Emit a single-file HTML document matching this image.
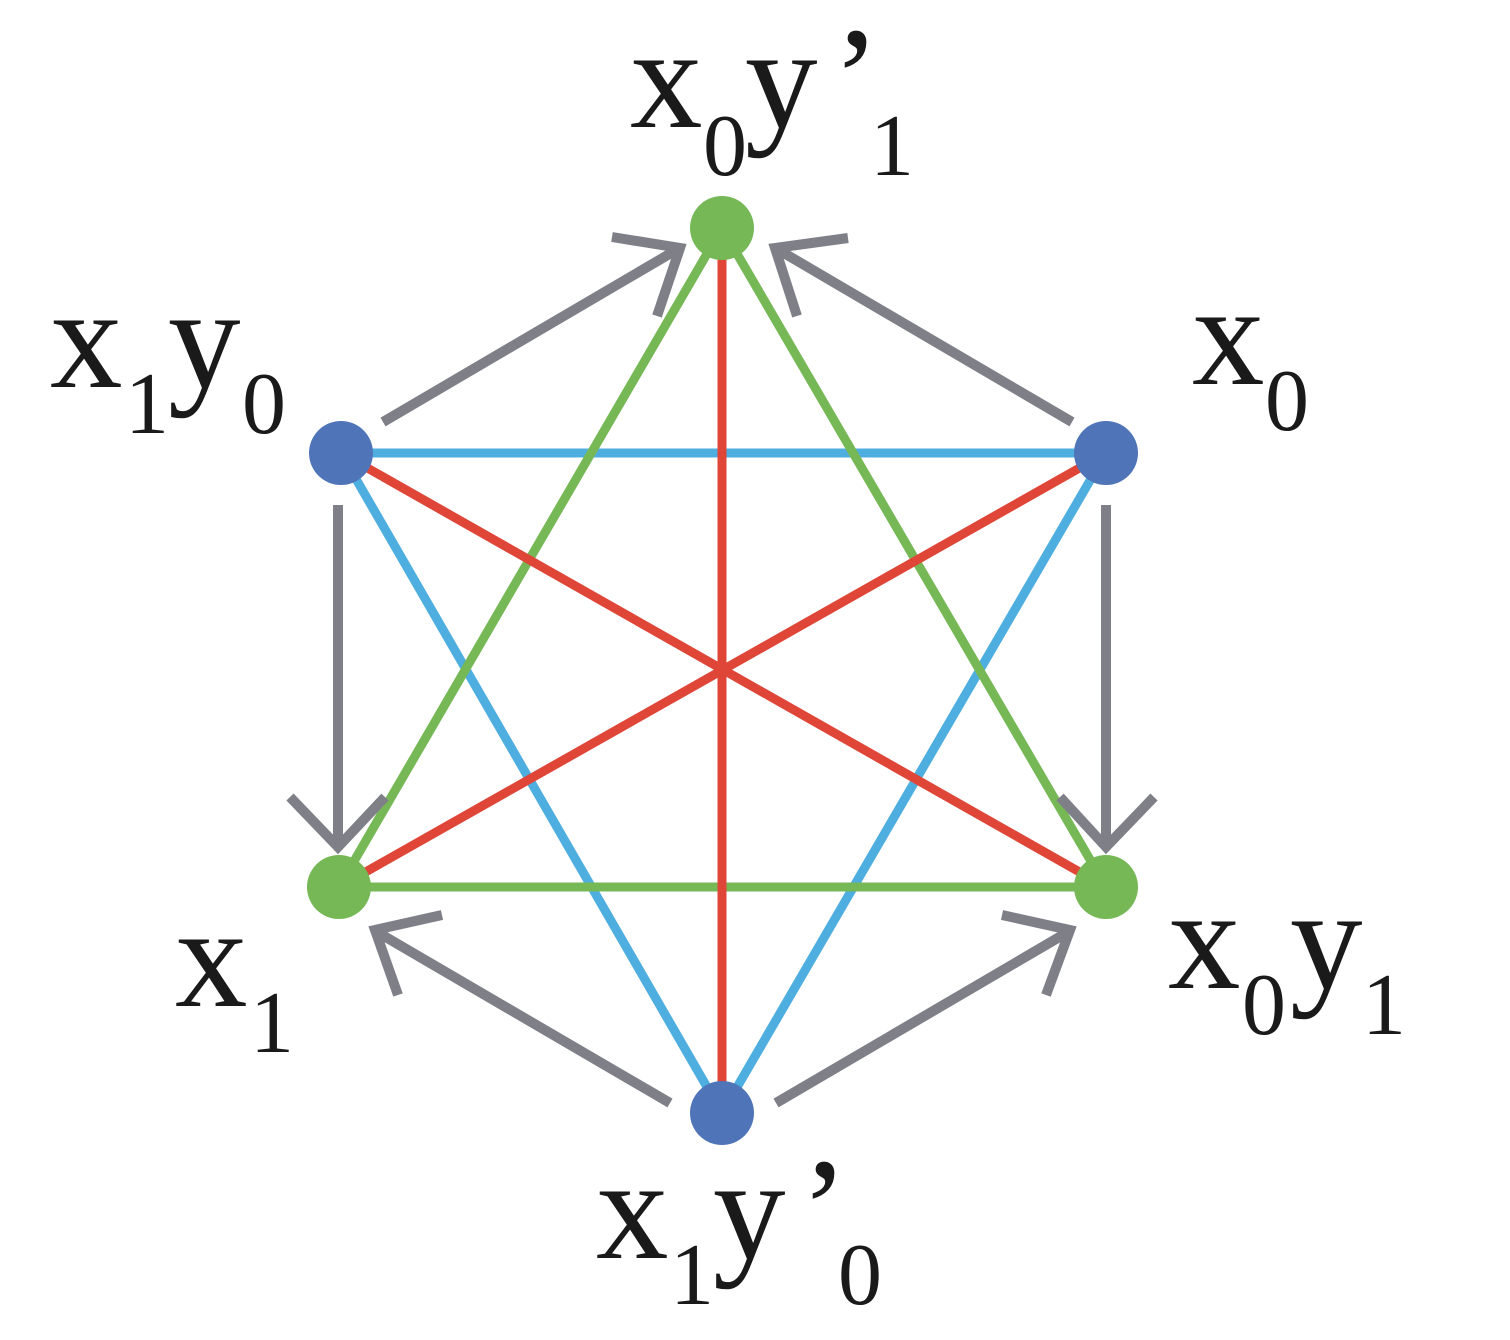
<!DOCTYPE html>
<html><head><style>html,body{margin:0;padding:0;background:#fff}svg{display:block}
.t{font-family:"Liberation Serif","Times New Roman",serif;fill:#1a1a1a}</style></head>
<body>
<svg width="1510" height="1340" viewBox="0 0 1510 1340" xmlns="http://www.w3.org/2000/svg">
<g stroke-width="9" stroke-linecap="butt">
<line x1="341" y1="453" x2="1106" y2="453" stroke="#4eaee0"/>
<line x1="341" y1="453" x2="722" y2="1113" stroke="#4eaee0"/>
<line x1="1106" y1="453" x2="722" y2="1113" stroke="#4eaee0"/>
<line x1="722" y1="228" x2="339" y2="887" stroke="#76b856"/>
<line x1="722" y1="228" x2="1106" y2="887" stroke="#76b856"/>
<line x1="339" y1="887" x2="1106" y2="887" stroke="#76b856"/>
<line x1="722" y1="228" x2="722" y2="1113" stroke="#df4638"/>
<line x1="341" y1="453" x2="1106" y2="887" stroke="#df4638"/>
<line x1="1106" y1="453" x2="339" y2="887" stroke="#df4638"/>
</g>
<g stroke="#7f7f88" stroke-width="10" fill="none">
<line x1="383" y1="422" x2="678" y2="249"/><polyline points="612,237 680,248 657,316"/>
<line x1="1072" y1="422" x2="777" y2="249"/><polyline points="848,238 775,248 797,316"/>
<line x1="338" y1="505" x2="338" y2="848"/><polyline points="290,797 338,847 385,797"/>
<line x1="1106" y1="505" x2="1106" y2="848"/><polyline points="1060,797 1106,847 1154,797"/>
<line x1="670" y1="1103" x2="377" y2="932"/><polyline points="442,915 375,930 398,995"/>
<line x1="776" y1="1103" x2="1068" y2="932"/><polyline points="1002,915 1070,930 1046,995"/>
</g>
<g>
<circle cx="722" cy="228" r="32" fill="#76b856"/>
<circle cx="341" cy="453" r="32" fill="#4f74b8"/>
<circle cx="1106" cy="453" r="32" fill="#4f74b8"/>
<circle cx="339" cy="887" r="32" fill="#76b856"/>
<circle cx="1106" cy="887" r="32" fill="#76b856"/>
<circle cx="722" cy="1113" r="32" fill="#4f74b8"/>
</g>
<g class="t">
<text x="630" y="127" font-size="145">x</text><text x="703" y="175" font-size="88">0</text><text x="745" y="127" font-size="145">y</text><text x="832" y="127" font-size="145">’</text><text x="870" y="175" font-size="88">1</text>
<text x="50" y="387" font-size="145">x</text><text x="125" y="433" font-size="88">1</text><text x="168" y="387" font-size="145">y</text><text x="242" y="433" font-size="88">0</text>
<text x="1192" y="384" font-size="145">x</text><text x="1265" y="430" font-size="88">0</text>
<text x="175" y="1006" font-size="145">x</text><text x="250" y="1052" font-size="88">1</text>
<text x="1168" y="988" font-size="145">x</text><text x="1242" y="1034" font-size="88">0</text><text x="1290" y="988" font-size="145">y</text><text x="1362" y="1034" font-size="88">1</text>
<text x="596" y="1258" font-size="145">x</text><text x="670" y="1304" font-size="88">1</text><text x="713" y="1258" font-size="145">y</text><text x="800" y="1258" font-size="145">’</text><text x="838" y="1304" font-size="88">0</text>
</g>
</svg>
</body></html>
